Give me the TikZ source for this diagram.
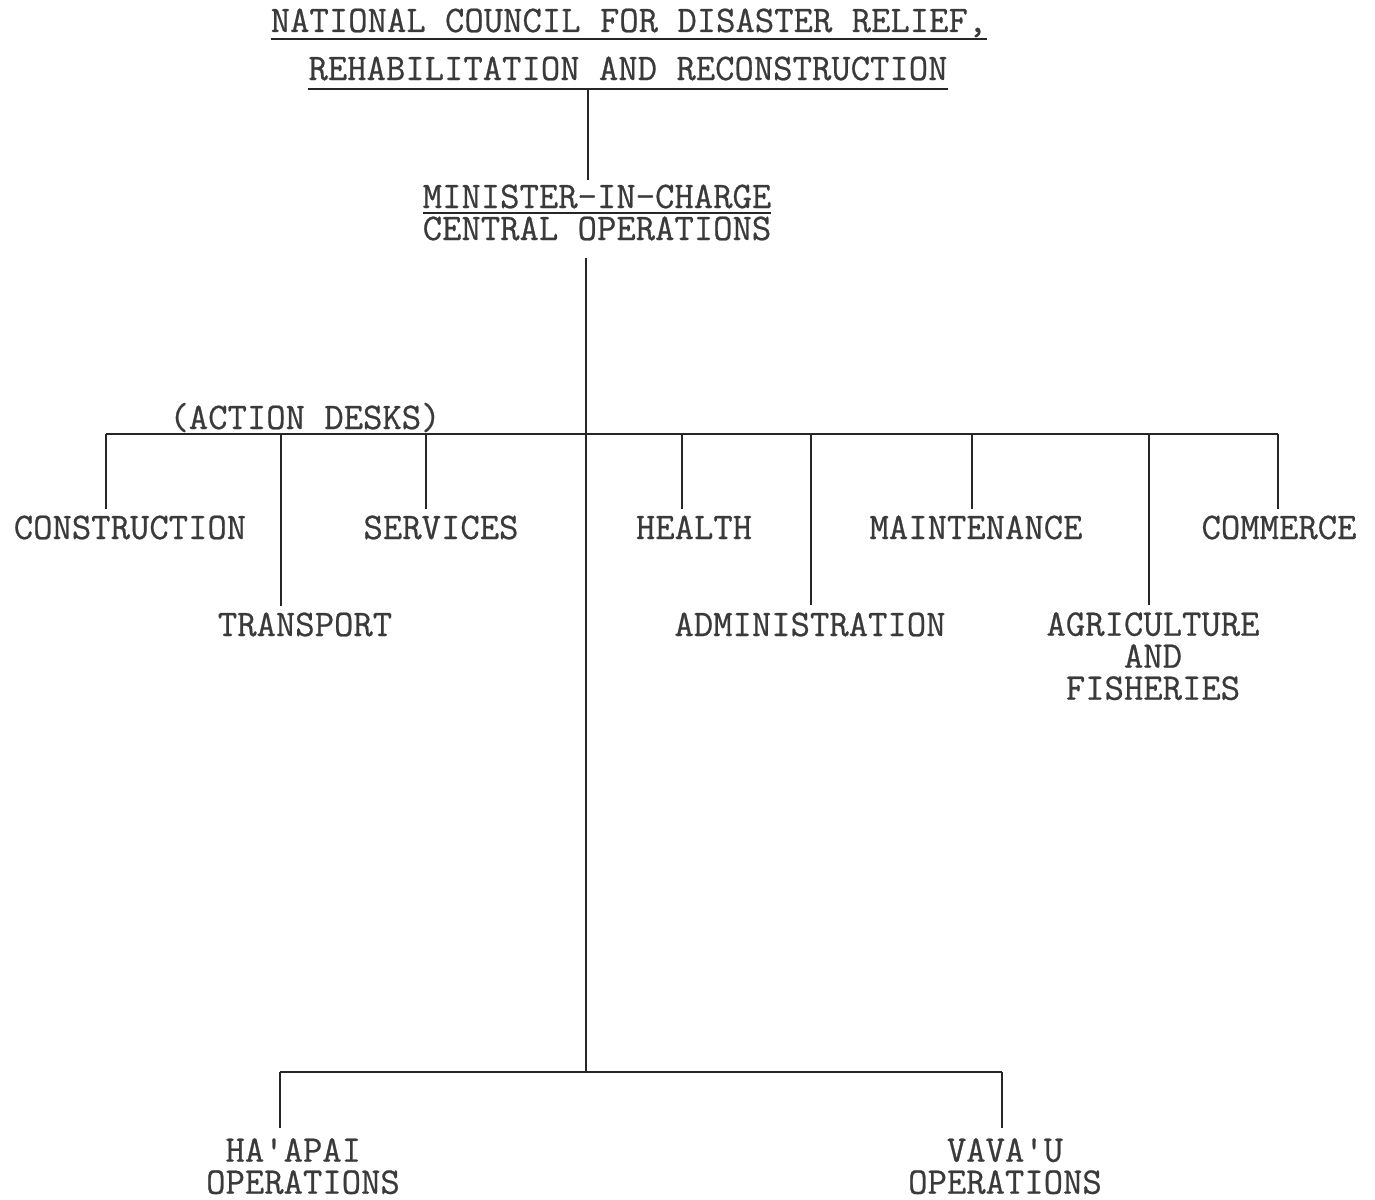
\documentclass[tikz,border=0pt]{standalone}
\usepackage{fontspec}
\newfontfamily\typew{Latin Modern Mono}[FakeBold=0.6]
\definecolor{txt}{HTML}{3A3A3A}
\definecolor{lin}{HTML}{262626}
\begin{document}
\begin{tikzpicture}[x=1pt,y=-1pt,
  lbl/.style={inner sep=0pt, anchor=base, align=center, font=\fontsize{37.6}{32}\selectfont\typew, text=txt},
  ln/.style={line width=1.9pt, draw=lin},
  uline/.style={line width=2.2pt, draw=lin}]
\useasboundingbox[fill=white] (0,0) rectangle (1375,1199);
% title
\node[lbl] (t1) at (629,32) {NATIONAL COUNCIL FOR DISASTER RELIEF,};
\node[lbl] (t2) at (628,80) {REHABILITATION AND RECONSTRUCTION};
\draw[uline] ([yshift=-7pt]t1.base west) -- ([yshift=-7pt]t1.base east);
\draw[uline] ([yshift=-9pt]t2.base west) -- ([yshift=-9pt]t2.base east);
% minister
\node[lbl] (m1) at (597,208) {MINISTER-IN-CHARGE};
\node[lbl] (m2) at (597,240) {CENTRAL OPERATIONS};
\draw[uline] ([yshift=-5pt]m1.base west) -- ([yshift=-5pt]m1.base east);
% action desks
\node[lbl] (ad) at (305,429) {(ACTION DESKS)};
\node[lbl] (con) at (130,539) {CONSTRUCTION};
\node[lbl] (ser) at (441,539) {SERVICES};
\node[lbl] (hea) at (694,539) {HEALTH};
\node[lbl] (mai) at (976,539) {MAINTENANCE};
\node[lbl] (com) at (1279,539) {COMMERCE};
\node[lbl] (tra) at (305,636) {TRANSPORT};
\node[lbl] (adm) at (810,636) {ADMINISTRATION};
\node[lbl, anchor=north] (agr) at (1153,612) {AGRICULTURE\\AND\\FISHERIES};
% regional operations
\node[lbl, anchor=north] (ha) at (303,1138) {HA\textquotesingle APAI\hphantom{X}\\OPERATIONS};
\node[lbl, anchor=north] (va) at (1005,1138) {VAVA\textquotesingle U\\OPERATIONS};
% coordinates
\coordinate (top) at (588,89);
\coordinate (bL) at (106,434);
\coordinate (bR) at (1278,434);
\coordinate (d2) at (281,434);
\coordinate (d3) at (426,434);
\coordinate (d4) at (682,434);
\coordinate (d5) at (811,434);
\coordinate (d6) at (972,434);
\coordinate (d7) at (1149,434);
\coordinate (bb) at (586,1072);
\coordinate (bbL) at (280,1072);
\coordinate (bbR) at (1002,1072);
% connectors
\draw[ln] (top) -- ([yshift=28pt]m1.base -| top);
\draw[ln] ([yshift=-18pt]m2.base -| bb) -- (bb);
\draw[ln] (bL) -- (bR);
\draw[ln] (bL) -- ([yshift=30pt]con.base -| bL);
\draw[ln] (d2) -- ([yshift=30pt]tra.base -| d2);
\draw[ln] (d3) -- ([yshift=30pt]ser.base -| d3);
\draw[ln] (d4) -- ([yshift=30pt]hea.base -| d4);
\draw[ln] (d5) -- ([yshift=31pt]adm.base -| d5);
\draw[ln] (d6) -- ([yshift=30pt]mai.base -| d6);
\draw[ln] (d7) -- ([yshift=7pt]agr.north -| d7);
\draw[ln] (bR) -- ([yshift=30pt]com.base -| bR);
\draw[ln] (bbL) -- (bbR);
\draw[ln] (bbL) -- ([yshift=10pt]ha.north -| bbL);
\draw[ln] (bbR) -- ([yshift=10pt]va.north -| bbR);
\end{tikzpicture}
\end{document}
